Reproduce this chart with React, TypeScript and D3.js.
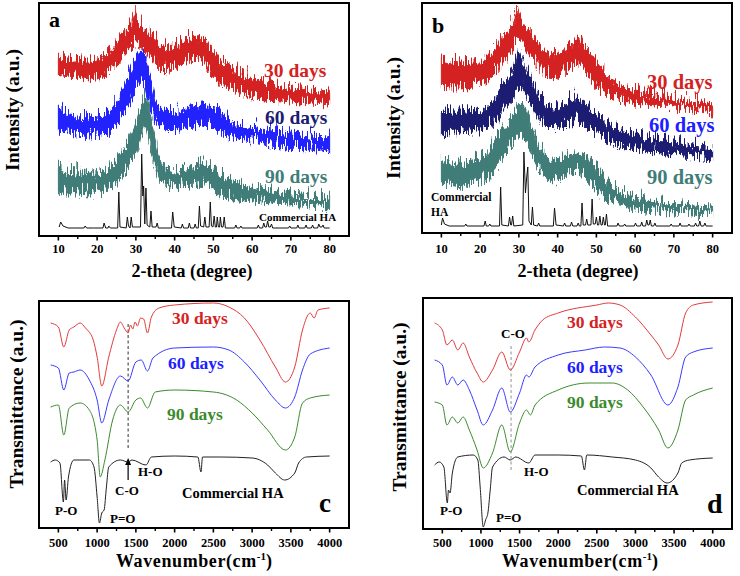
import React from "react";
import * as d3 from "d3";

// ---------------- axis ticks ----------------
const xrdTicks = [10, 20, 30, 40, 50, 60, 70, 80];
const xrdMinor = [15, 25, 35, 45, 55, 65, 75];
const ftirTicks = [500, 1000, 1500, 2000, 2500, 3000, 3500, 4000];
const ftirMinor = [750, 1250, 1750, 2250, 2750, 3250, 3750];

// ---------------- XRD panel a: [2-theta, lower, upper] (a.u.) ----------------
const xrdA30: [number, number, number][] = [[10,164,186],[12,161,181],[15,160,181],[18,158,181],[20,158,182],[22,162,186],[25,173,198],[27,183,208],[29,191,218],[29.8,194,231],[30,194,221],[31,193,216],[33,184,211],[35,174,201],[37,166,193],[40,170,194],[43,176,201],[45,178,203],[47,174,201],[49,166,194],[52,152,178],[55,148,171],[60,141,162],[65,138,156],[70,136,152],[75,134,150],[80,133,148]];
const xrdA60: [number, number, number][] = [[10,106,131],[12,104,126],[15,103,123],[18,101,124],[20,101,123],[23,104,128],[25,113,139],[27,123,154],[28,128,163],[30,146,181],[31.5,156,191],[32.5,151,186],[33,139,176],[34,126,156],[35,116,139],[37,109,131],[40,106,129],[44,109,133],[47,113,136],[49,111,136],[50,109,133],[55,99,119],[60,96,113],[65,93,109],[70,89,106],[75,88,104],[80,88,103]];
const xrdA90: [number, number, number][] = [[10,46,74],[12,44,69],[15,44,68],[18,43,71],[20,43,66],[23,46,71],[25,53,81],[26.5,61,91],[28,68,96],[30,83,116],[31.5,101,136],[32.5,113,146],[33.5,96,131],[34.5,76,111],[36,56,81],[38,51,71],[40,49,69],[44,51,73],[47,54,78],[50,46,71],[53,41,64],[55,39,59],[60,36,53],[65,34,49],[70,33,46],[75,31,44],[80,29,43]];
const xrdAHA: [number, number][] = [[10.2,9],[10.6,14],[11.2,10],[12.5,8],[14,8],[16.6,8],[16.9,10],[17.3,8],[19,8],[21.5,8],[21.8,13],[22.2,8],[22.8,8],[23.0,10],[23.4,8],[25.3,8],[25.6,44],[25.9,9],[27.5,8],[27.8,19],[28.1,10],[28.5,8],[28.8,19],[29.1,9],[31.2,9],[31.5,82],[31.8,40],[32.0,50],[32.3,12],[32.6,48],[32.9,11],[33.6,9],[33.9,25],[34.2,9],[35.2,9],[35.5,13],[35.8,8],[39.2,8],[39.5,24],[39.9,9],[41.7,8],[42.0,12],[42.3,8],[43.5,8],[43.8,13],[44.1,8],[45.0,8],[45.3,12],[45.6,8],[46.1,8],[46.4,30],[46.7,10],[47.5,9],[47.8,19],[48.1,9],[48.9,9],[49.2,34],[49.5,10],[49.9,9],[50.2,20],[50.5,9],[50.8,9],[51.0,19],[51.3,9],[51.6,9],[51.8,19],[52.1,9],[52.5,9],[52.8,19],[53.1,8],[55.5,8],[55.8,11],[56.1,8],[56.8,8],[57.1,10],[57.4,8],[60,8],[61.3,8],[61.6,11],[61.9,8],[62.7,8],[63.0,13],[63.3,9],[63.7,9],[64.0,15],[64.3,9],[64.7,9],[65.0,12],[65.3,8],[69.4,8],[69.7,10],[70.0,8],[71.5,8],[71.8,11],[72.1,8],[73.6,8],[73.9,11],[74.2,8],[75.3,8],[75.6,11],[75.9,8],[76.9,8],[77.2,12],[77.5,9],[78.0,9],[78.3,11],[78.6,8],[80,8]];

// ---------------- XRD panel b ----------------
const xrdB30: [number, number, number][] = [[10,145,178],[12,146,176],[15,146,175],[18,148,176],[20,150,176],[22,153,181],[25,166,196],[27,176,206],[29,188,218],[29.5,190,231],[30,193,221],[31,190,216],[33,176,206],[35,167,195],[37,160,186],[40,156,183],[43,166,193],[45,170,196],[47,165,193],[50,146,176],[52,141,166],[55,136,156],[60,130,146],[65,128,142],[70,126,140],[75,124,136],[80,121,133]];
const xrdB60: [number, number, number][] = [[10,100,130],[12,101,126],[15,103,126],[18,103,128],[20,103,126],[22,106,130],[25,116,146],[27,128,158],[29,141,171],[30,146,186],[31,145,175],[33,133,160],[35,116,143],[37,110,133],[40,106,130],[43,110,136],[45,113,140],[47,108,136],[50,100,123],[53,93,113],[55,90,110],[60,86,103],[65,83,98],[70,80,96],[75,78,93],[80,76,90]];
const xrdB90: [number, number, number][] = [[10,50,80],[12,48,73],[15,46,73],[18,50,76],[20,53,80],[22,56,85],[25,70,103],[27,83,113],[29,93,125],[30.5,100,133],[32,93,128],[33,83,113],[35,66,93],[37,56,80],[40,53,76],[43,60,83],[45,63,86],[48,53,80],[50,43,70],[52,36,60],[55,30,46],[60,25,40],[65,23,36],[70,20,33],[75,19,31],[80,18,30]];
const xrdBHA: [number, number][] = [[10,8],[10.3,15],[10.8,9],[12,7],[16,7],[16.3,9],[16.6,7],[21,7],[21.3,12],[21.6,7],[22.2,7],[22.5,9],[22.8,7],[25.0,7],[25.3,46],[25.6,8],[27.3,7],[27.6,16],[27.9,8],[28.1,8],[28.4,17],[28.7,7],[31.0,8],[31.3,81],[31.7,40],[32.0,55],[32.3,66],[32.6,12],[33.2,8],[33.5,26],[33.8,8],[34.8,7],[35.1,10],[35.4,7],[38.9,7],[39.2,25],[39.6,8],[41.5,7],[41.8,10],[42.1,7],[43.3,7],[43.6,11],[43.9,7],[45.0,7],[45.3,10],[45.6,7],[46.0,7],[46.3,30],[46.6,8],[47.2,8],[47.5,14],[47.8,8],[48.6,8],[48.9,34],[49.2,9],[49.7,9],[50.0,16],[50.3,8],[50.6,8],[50.9,17],[51.2,8],[51.5,8],[51.8,16],[52.1,8],[52.3,8],[52.6,19],[52.9,7],[55.3,7],[55.6,10],[55.9,7],[57,7],[57.3,9],[57.6,7],[59.8,7],[60.1,10],[60.4,7],[61.4,7],[61.7,11],[62,7],[62.7,7],[63.0,13],[63.3,8],[63.6,8],[63.9,13],[64.2,7],[64.8,7],[65.1,10],[65.4,7],[69,7],[69.3,9],[69.6,7],[71.3,7],[71.6,10],[71.9,7],[73.6,7],[73.9,9],[74.2,7],[75.3,7],[75.6,10],[75.9,7],[76.4,7],[76.7,12],[77.0,7],[77.7,7],[78.0,10],[78.3,7],[80,7]];

// ---------------- FTIR panel c: [wavenumber, transmittance a.u.] ----------------
const ftirC30: [number, number][] = [[400,205],[500,201],[570,181],[640,198],[700,201],[780,205],[850,200],[950,188],[1000,171],[1060,142],[1150,171],[1250,198],[1300,206],[1350,200],[1400,195],[1430,203],[1460,199],[1490,206],[1520,202],[1560,210],[1600,209],[1650,195],[1700,211],[1800,220],[2000,223],[2500,225],[2700,221],[2900,210],[3100,188],[3300,161],[3430,146],[3550,161],[3650,198],[3750,215],[3800,210],[3850,218],[4000,220]];
const ftirC60: [number, number][] = [[400,163],[500,160],[570,138],[640,155],[700,156],[780,158],[900,148],[1000,128],[1060,105],[1150,128],[1300,152],[1400,147],[1500,166],[1570,168],[1650,157],[1720,170],[2000,180],[2500,181],[2700,178],[2900,166],[3100,148],[3300,128],[3430,120],[3550,131],[3650,158],[3750,174],[4000,180]];
const ftirC90: [number, number][] = [[400,121],[500,123],[570,93],[640,120],[780,125],[900,118],[1000,88],[1040,51],[1100,68],[1200,108],[1300,123],[1400,116],[1500,128],[1560,130],[1650,120],[1750,136],[2000,138],[2500,136],[2800,128],[3000,115],[3200,98],[3430,78],[3550,91],[3650,125],[3750,130],[4000,133]];
const ftirCHA: [number, number][] = [[400,66],[460,68],[520,65],[565,26],[580,48],[600,28],[630,51],[700,68],[900,68],[960,61],[1000,31],[1030,5],[1060,15],[1090,18],[1120,41],[1150,61],[1300,68],[1400,66],[1450,68],[1630,63],[1700,71],[2000,72],[2300,71],[2340,56],[2360,71],[2600,71],[3000,70],[3200,63],[3300,55],[3420,48],[3550,55],[3600,65],[3700,71],[4000,72]];

// ---------------- FTIR panel d ----------------
const ftirD30: [number, number][] = [[400,206],[500,199],[560,184],[630,189],[700,179],[770,186],[850,172],[950,156],[1030,147],[1150,159],[1270,177],[1380,159],[1500,177],[1590,191],[1620,187],[1700,199],[1800,209],[2000,216],[2500,224],[2650,226],[2800,224],[3000,212],[3200,194],[3300,184],[3420,170],[3550,184],[3650,216],[3750,224],[4000,227]];
const ftirD60: [number, number][] = [[400,169],[500,164],[560,144],[630,152],[700,144],[770,149],[850,139],[950,119],[1030,104],[1150,119],[1270,141],[1380,117],[1500,136],[1590,154],[1620,152],[1700,162],[2000,174],[2350,179],[2600,182],[2800,181],[3000,172],[3200,154],[3420,124],[3550,142],[3650,172],[3750,177],[4000,181]];
const ftirD90: [number, number][] = [[400,127],[500,124],[560,104],[630,112],[700,106],[770,112],[850,99],[950,79],[1030,61],[1150,76],[1270,104],[1380,77],[1500,106],[1590,119],[1640,114],[1700,124],[2000,139],[2400,146],[2700,146],[2900,139],[3100,122],[3300,99],[3420,81],[3550,99],[3650,129],[3750,134],[4000,141]];
const ftirDHA: [number, number][] = [[400,64],[460,67],[520,62],[565,26],[580,39],[600,36],[630,56],[700,72],[900,74],[960,69],[990,42],[1030,2],[1060,9],[1090,16],[1120,39],[1150,62],[1300,72],[1380,69],[1450,72],[1620,66],[1700,74],[2000,74],[2300,73],[2340,59],[2370,74],[2700,72],[3000,69],[3200,61],[3300,52],[3410,46],[3550,56],[3600,66],[3700,69],[4000,71]];

// marker lines [wavenumber, from, to]
const cMarker: [number, number, number] = [1400, 80, 206];
const cArrow: [number, number, number] = [1400, 48, 70];
const dMarker: [number, number, number] = [1390, 59, 184];

const FONT = "'Liberation Serif','Times New Roman',Times,serif";
const RED = "#d42222";
const BLUE = "#2020ff";
const NAVY = "#1b1b72";
const TEAL = "#3f7d78";
const GREEN = "#3b8a2c";

type Box = { x0: number; x1: number; y0: number; y1: number };

function T(props: any) {
  const { children, ...rest } = props;
  return (
    <text fontFamily={FONT} fontWeight="bold" {...rest}>
      {children}
    </text>
  );
}

function Frame({ box, x, major, minor, tickY, xTitle, xTitleX, xTitleY, yTitle, yTitleX, yTitleY }: any) {
  return (
    <g>
      <rect x={box.x0} y={box.y0} width={box.x1 - box.x0} height={box.y1 - box.y0} fill="none" stroke="#000" strokeWidth={2} />
      {major.map((t: number) => (
        <line key={"M" + t} x1={x(t)} x2={x(t)} y1={box.y1} y2={box.y1 + 4.5} stroke="#000" strokeWidth={1.6} />
      ))}
      {minor.map((t: number) => (
        <line key={"m" + t} x1={x(t)} x2={x(t)} y1={box.y1} y2={box.y1 + 3} stroke="#000" strokeWidth={1.4} />
      ))}
      {major.map((t: number) => (
        <T key={"L" + t} x={x(t)} y={tickY} textAnchor="middle" fontSize={12.5}>
          {t}
        </T>
      ))}
      <T x={xTitleX} y={xTitleY} textAnchor="middle" fontSize={18}>
        {xTitle}
      </T>
      <T x={0} y={0} textAnchor="middle" fontSize={19.5} transform={`translate(${yTitleX},${yTitleY}) rotate(-90)`}>
        {yTitle}
      </T>
    </g>
  );
}

function XrdPanel({ box, s30, s60, s90, ha, c60, labels }: any) {
  const x = d3.scaleLinear().domain([5, 85]).range([box.x0, box.x1]);
  const y = d3.scaleLinear().domain([0, box.y1 - box.y0]).range([box.y1, box.y0]);
  const area = d3
    .area<[number, number, number]>()
    .x((d) => x(d[0]))
    .y0((d) => y(d[1]) - 2)
    .y1((d) => y(d[2]) + 2);
  const line = d3
    .line<[number, number]>()
    .x((d) => x(d[0]))
    .y((d) => y(d[1]));
  return (
    <g>
      <g filter="url(#xrdNoise)">
        <path d={area(s30) || ""} fill={RED} stroke={RED} strokeWidth={1} />
        <path d={area(s60) || ""} fill={c60} stroke={c60} strokeWidth={1} />
        <path d={area(s90) || ""} fill={TEAL} stroke={TEAL} strokeWidth={1} />
      </g>
      <path d={line(ha) || ""} fill="none" stroke="#111" strokeWidth={1} />
      {labels}
    </g>
  );
}

function FtirPanel({ box, s30, s60, s90, ha, marker, markerColor, arrow, labels }: any) {
  const x = d3.scaleLinear().domain([250, 4250]).range([box.x0, box.x1]);
  const y = d3.scaleLinear().domain([0, box.y1 - box.y0]).range([box.y1, box.y0]);
  const line = d3
    .line<[number, number]>()
    .x((d) => x(d[0]))
    .y((d) => y(d[1]))
    .curve(d3.curveMonotoneX);
  return (
    <g>
      <line x1={x(marker[0])} x2={x(marker[0])} y1={y(marker[1])} y2={y(marker[2])} stroke={markerColor} strokeWidth={1.1} strokeDasharray="3,2.5" />
      {arrow && (
        <g>
          <line x1={x(arrow[0])} x2={x(arrow[0])} y1={y(arrow[1])} y2={y(arrow[2]) + 5} stroke="#000" strokeWidth={1.2} />
          <path d={`M${x(arrow[0])},${y(arrow[2])} l-3,7 l6,0 z`} fill="#000" />
        </g>
      )}
      <path d={line(s30) || ""} fill="none" stroke="#e23a3a" strokeWidth={1} />
      <path d={line(s60) || ""} fill="none" stroke="#3a3aff" strokeWidth={1} />
      <path d={line(s90) || ""} fill="none" stroke={GREEN} strokeWidth={1} />
      <path d={line(ha) || ""} fill="none" stroke="#222" strokeWidth={1} />
      {labels}
    </g>
  );
}

const wavenumberTitle = (
  <>
    <tspan letterSpacing="0.6">Wavenumber(cm</tspan>
    <tspan fontSize={11} dy={-7}>-1</tspan>
    <tspan dy={7}>)</tspan>
  </>
);

export default function App() {
  const boxA: Box = { x0: 39, x1: 349, y0: 3, y1: 236 };
  const boxB: Box = { x0: 422, x1: 732, y0: 3, y1: 233 };
  const boxC: Box = { x0: 39, x1: 349, y0: 301, y1: 528 };
  const boxD: Box = { x0: 423, x1: 732, y0: 298, y1: 529 };
  const xA = d3.scaleLinear().domain([5, 85]).range([boxA.x0, boxA.x1]);
  const xB = d3.scaleLinear().domain([5, 85]).range([boxB.x0, boxB.x1]);
  const xC = d3.scaleLinear().domain([250, 4250]).range([boxC.x0, boxC.x1]);
  const xD = d3.scaleLinear().domain([250, 4250]).range([boxD.x0, boxD.x1]);

  return (
    <svg width={740} height={576} style={{ position: "absolute", left: 0, top: 0, background: "#fff" }}>
      <defs>
        <filter id="xrdNoise" x="-2%" y="-10%" width="104%" height="120%" filterUnits="objectBoundingBox">
          <feTurbulence type="turbulence" baseFrequency="0.85 0.04" numOctaves={2} seed={7} result="t" />
          <feColorMatrix in="t" type="matrix" values="0 0 0 0 0.5  0 1.6 0 0 -0.05  0 0 0 0 0  0 0 0 0 1" result="m" />
          <feDisplacementMap in="SourceGraphic" in2="m" scale={16} xChannelSelector="R" yChannelSelector="G" />
        </filter>
      </defs>
      <rect x={0} y={0} width={740} height={576} fill="#fff" />

      {/* Panel a */}
      <XrdPanel
        box={boxA}
        s30={xrdA30}
        s60={xrdA60}
        s90={xrdA90}
        ha={xrdAHA}
        c60={BLUE}
        labels={
          <g>
            <T x={49} y={27} fontSize={22}>a</T>
            <T x={264} y={77} fontSize={19.5} fill={RED}>30 days</T>
            <T x={265} y={124} fontSize={19.5} fill={NAVY}>60 days</T>
            <T x={265} y={183} fontSize={19.5} fill={TEAL}>90 days</T>
            <T x={259} y={221} fontSize={11}>Commercial HA</T>
          </g>
        }
      />
      <Frame box={boxA} x={xA} major={xrdTicks} minor={xrdMinor} tickY={253} xTitle="2-theta (degree)" xTitleX={192} xTitleY={277} yTitle="Intensity (a.u.)" yTitleX={19} yTitleY={110} />

      {/* Panel b */}
      <XrdPanel
        box={boxB}
        s30={xrdB30}
        s60={xrdB60}
        s90={xrdB90}
        ha={xrdBHA}
        c60={NAVY}
        labels={
          <g>
            <T x={432} y={33} fontSize={22}>b</T>
            <T x={647} y={89} fontSize={20.5} fill={RED}>30 days</T>
            <T x={649} y={132} fontSize={20.5} fill={BLUE}>60 days</T>
            <T x={647} y={184} fontSize={20.5} fill={TEAL}>90 days</T>
            <T x={431} y={201} fontSize={11.5}>Commercial</T>
            <T x={431} y={216} fontSize={11.5}>HA</T>
          </g>
        }
      />
      <Frame box={boxB} x={xB} major={xrdTicks} minor={xrdMinor} tickY={253} xTitle="2-theta (degree)" xTitleX={578} xTitleY={277} yTitle="Intensity (a.u.)" yTitleX={400} yTitleY={118} />

      {/* Panel c */}
      <FtirPanel
        box={boxC}
        s30={ftirC30}
        s60={ftirC60}
        s90={ftirC90}
        ha={ftirCHA}
        marker={cMarker}
        markerColor="#444"
        arrow={cArrow}
        labels={
          <g>
            <T x={172} y={324} fontSize={17.5} fill={RED}>30 days</T>
            <T x={168} y={369} fontSize={17.5} fill={BLUE}>60 days</T>
            <T x={167} y={420} fontSize={17.5} fill={GREEN}>90 days</T>
            <T x={138} y={476} fontSize={13}>H-O</T>
            <T x={115} y={495} fontSize={13}>C-O</T>
            <T x={182} y={498} fontSize={14.5}>Commercial HA</T>
            <T x={55} y={515} fontSize={13}>P-O</T>
            <T x={110} y={523} fontSize={13}>P=O</T>
            <T x={319} y={512} fontSize={27}>c</T>
          </g>
        }
      />
      <Frame box={boxC} x={xC} major={ftirTicks} minor={ftirMinor} tickY={547} xTitle={wavenumberTitle} xTitleX={194} xTitleY={567} yTitle="Transmittance (a.u.)" yTitleX={23} yTitleY={404} />

      {/* Panel d */}
      <FtirPanel
        box={boxD}
        s30={ftirD30}
        s60={ftirD60}
        s90={ftirD90}
        ha={ftirDHA}
        marker={dMarker}
        markerColor="#999"
        arrow={null}
        labels={
          <g>
            <T x={501} y={338} fontSize={13}>C-O</T>
            <T x={567} y={328} fontSize={17.5} fill={RED}>30 days</T>
            <T x={567} y={373} fontSize={17.5} fill={BLUE}>60 days</T>
            <T x={567} y={408} fontSize={17.5} fill={GREEN}>90 days</T>
            <T x={524} y={476} fontSize={13}>H-O</T>
            <T x={577} y={495} fontSize={14.5}>Commercial HA</T>
            <T x={440} y={515} fontSize={13}>P-O</T>
            <T x={496} y={522} fontSize={13}>P=O</T>
            <T x={707} y={513} fontSize={28}>d</T>
          </g>
        }
      />
      <Frame box={boxD} x={xD} major={ftirTicks} minor={ftirMinor} tickY={547} xTitle={wavenumberTitle} xTitleX={580} xTitleY={567} yTitle="Transmittance (a.u.)" yTitleX={406} yTitleY={407} />
    </svg>
  );
}
